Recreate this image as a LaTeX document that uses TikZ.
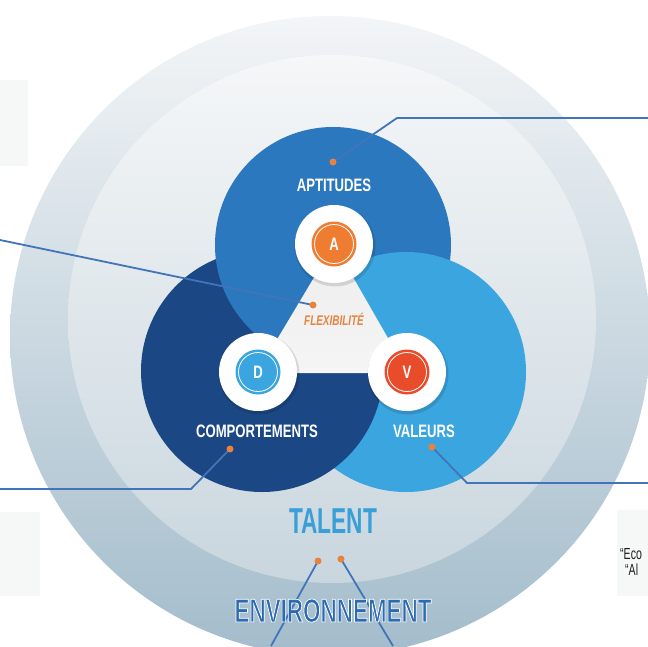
\documentclass[tikz,border=0pt]{standalone}
\usepackage{fontspec}
\setmainfont{Liberation Sans}
\newfontfamily\lblfont[FakeStretch=0.73]{Liberation Sans}
\newfontfamily\talentfont[FakeStretch=0.63]{Liberation Sans}
\newfontfamily\envfont[FakeStretch=0.68]{Liberation Sans}
\newfontfamily\flexfont[FakeStretch=0.71]{Liberation Sans}
\newfontfamily\quotefont[FakeStretch=0.66]{Liberation Sans}
\definecolor{aptblue}{HTML}{2B78BE}
\definecolor{compblue}{HTML}{1C4785}
\definecolor{valblue}{HTML}{3AA5DE}
\definecolor{orangeA}{HTML}{EE7D32}
\definecolor{redV}{HTML}{E84C2B}
\definecolor{dotor}{HTML}{E8823E}
\definecolor{lineblue}{HTML}{4274BA}
\definecolor{talentblue}{HTML}{3A9FD8}
\definecolor{envblue}{HTML}{2C6BB2}
\definecolor{outtop}{HTML}{F3F5F7}
\definecolor{outmid}{HTML}{D9E2E8}
\definecolor{outbot}{HTML}{A3BCCB}
\definecolor{intop}{HTML}{F5F7F8}
\definecolor{inmid}{HTML}{E9EEF1}
\definecolor{inbot}{HTML}{C9D6DE}
\definecolor{boxgray}{HTML}{F6F7F7}
\begin{document}
\begin{tikzpicture}[x=1pt,y=1pt,
  badge/.style={circle,fill=white,minimum size=78pt,inner sep=0pt},
  letterin/.style={circle,minimum size=45pt,inner sep=0pt},
  whitelbl/.style={text=white,font=\lblfont\bfseries\fontsize{18}{18}\selectfont,anchor=base,inner sep=0pt},
  conn/.style={draw=lineblue,line width=1.8pt,line join=round},
  dotmark/.style={circle,fill=dotor,minimum size=7pt,inner sep=0pt}]
\useasboundingbox (0,0) rectangle (648,-646);
\clip (0,0) rectangle (648,-646);
\fill[white] (0,0) rectangle (648,-646);
% faint side boxes
\fill[boxgray] (0,-80) rectangle (28,-166);
\fill[boxgray] (0,-512) rectangle (40,-596);
\fill[boxgray] (617,-510) rectangle (648,-596);
% background discs
\shade[top color=outtop, middle color=outmid, bottom color=outbot] (330,-336) circle (320);
\shade[top color=intop, middle color=inmid, bottom color=inbot] (332,-319) circle (264);
% three circles (cyclic overlap)
\fill[compblue] (262,-371) circle (121);
\fill[aptblue] (333,-245) circle (118);
\fill[valblue] (406,-372) circle (120);
\begin{scope}
  \clip (406,-372) circle (120);
  \fill[compblue] (262,-371) circle (121);
\end{scope}
\begin{scope}
  \clip (262,-371) circle (120.5);
  \draw[compblue,line width=1.6pt] (406,-372) circle (120);
\end{scope}
% central triangle
\shade[top color=white!86!gray, bottom color=white!92!gray] (334,-244) -- (257,-373) -- (408,-373) -- cycle;
% badges
\foreach \x/\y/\c/\t/\n in {334/-244/orangeA/A/a, 258/-372/valblue/D/d, 407/-372/redV/V/v}{
  \fill[black,opacity=0.12] (\x+1,\y-2) circle (40.5);
  \node[badge] (badge\n) at (\x,\y) {};
  \node[letterin,fill=\c] (in\n) at (\x,\y) {};
  \draw[white,line width=0.8pt] (\x,\y) circle (19.5);
  \node[text=white,font=\lblfont\bfseries\fontsize{18}{18}\selectfont,inner sep=0pt,anchor=base] (let\n) at (\x,\y-6.5) {\t};
}
% labels
\node[whitelbl] (apt) at (334,-191) {APTITUDES};
\node[whitelbl] (comp) at (257,-437) {COMPORTEMENTS};
\node[whitelbl] (val) at (424,-437) {VALEURS};
\node[text=dotor,font=\flexfont\bfseries\itshape\fontsize{14}{14}\selectfont,anchor=base,inner sep=0pt] (flex) at (334,-325) {FLEXIBILITÉ};
\node[text=talentblue,font=\talentfont\bfseries\fontsize{36}{36}\selectfont,anchor=base,inner sep=0pt] (talent) at (333,-533) {TALENT};
% connectors
\coordinate (aptdot) at (333,-162);
\coordinate (aptc) at (397,-118);
\coordinate (aptend) at (648,-118);
\coordinate (flexdot) at (313,-305);
\coordinate (flexend) at (0,-240);
\coordinate (compdot) at (230,-449);
\coordinate (compc) at (191,-489);
\coordinate (compend) at (0,-489);
\coordinate (valdot) at (432,-447);
\coordinate (valc) at (467,-483);
\coordinate (valend) at (648,-483);
\coordinate (envdotA) at (318,-561);
\coordinate (envdotB) at (341,-559);
\coordinate (envendA) at (271,-646);
\coordinate (envendB) at (393,-646);
\draw[conn] (aptdot) -- (aptc) -- (aptend);
\draw[conn] (flexdot) -- (flexend);
\draw[conn] (compdot) -- (compc) -- (compend);
\draw[conn] (valdot) -- (valc) -- (valend);
\draw[conn] (envdotA) -- (envendA);
\draw[conn] (envdotB) -- (envendB);
\foreach \d in {aptdot,flexdot,compdot,valdot,envdotA,envdotB}{
  \node[dotmark] at (\d) {};
}
% ENVIRONNEMENT: blue fill with thin white outline (PDF text render mode 2)
\node[text=envblue,font=\envfont\bfseries\fontsize{33}{33}\selectfont,anchor=base,inner sep=0pt] (env) at (333,-622) {\special{pdf:literal direct 2 Tr 0.7 w 1 1 1 RG}ENVIRONNEMENT\special{pdf:literal direct 0 Tr}};
% cut-off quotes at right
\node[text=black!88,font=\quotefont\fontsize{16}{16}\selectfont,anchor=base west,inner sep=0pt] (q1) at (620,-559) {“Eco};
\node[text=black!88,font=\quotefont\fontsize{16}{16}\selectfont,anchor=base west,inner sep=0pt] (q2) at (625,-575) {“Al};
\end{tikzpicture}
\end{document}
